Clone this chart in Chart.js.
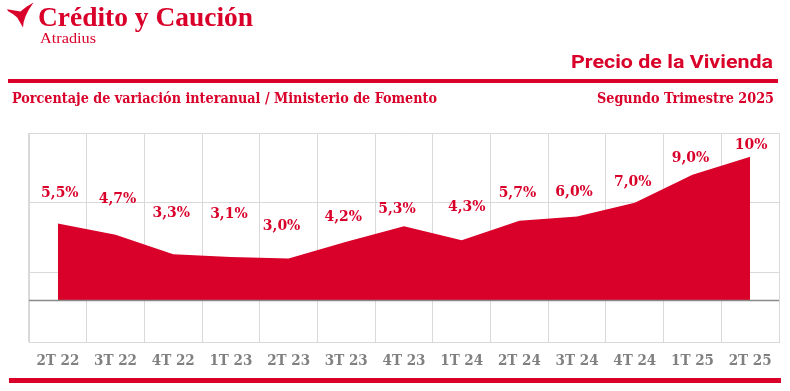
<!DOCTYPE html>
<html>
<head>
<meta charset="utf-8">
<script src="https://cdn.jsdelivr.net/npm/chart.js@4"></script>
<style>
  html, body { margin: 0; padding: 0; background: #ffffff; }
  #wrap { position: relative; width: 790px; height: 391px; overflow: hidden; }
  canvas { display: block; }
</style>
</head>
<body>
<div id="wrap"><canvas id="c" width="790" height="391"></canvas></div>
<script>
// ---- data ----
const categories = ['2T 22','3T 22','4T 22','1T 23','2T 23','3T 23','4T 23','1T 24','2T 24','3T 24','4T 24','1T 25','2T 25'];
const values = [5.5, 4.7, 3.3, 3.1, 3.0, 4.2, 5.3, 4.3, 5.7, 6.0, 7.0, 9.0, 10.3];
const yTicks = [-3, 0, 2, 7, 12];

const logoText = 'Crédito y Caución';
const logoSub = 'Atradius';
const titleText = 'Precio de la Vivienda';
const subtitleLeft = 'Porcentaje de variación interanual / Ministerio de Fomento';
const subtitleRight = 'Segundo Trimestre 2025';

const RED = '#d9002a';
const GRID = '#d9d9d9';
const SLAB = "'DejaVu Serif Condensed', 'DejaVu Serif', serif";

function fmt(v) {
  return v >= 10 ? Math.round(v) + '%' : v.toFixed(1).replace('.', ',') + '%';
}

function drawFitText(ctx, text, x, y, font, color, align, targetW) {
  ctx.save();
  ctx.font = font;
  ctx.fillStyle = color;
  ctx.textBaseline = 'alphabetic';
  const w = ctx.measureText(text).width;
  const s = targetW ? targetW / w : 1;
  const left = align === 'right' ? x - w * s : x;
  ctx.translate(left, y);
  ctx.scale(s, 1);
  ctx.textAlign = 'left';
  ctx.fillText(text, 0, 0);
  ctx.restore();
}

const headerPlugin = {
  id: 'header',
  afterDraw(chart) {
    const ctx = chart.ctx;
    ctx.save();
    const p = new Path2D('M33.5 2.5 Q26 6.5 20.5 11.5 L7 9.2 L8.2 11.3 Q14 14.2 17.2 17.5 L23 27.6 Q22.8 17.5 33.5 2.5 Z');
    ctx.fillStyle = RED;
    ctx.fill(p);
    ctx.restore();
    drawFitText(ctx, logoText, 38, 26, "bold 28px 'Liberation Serif', serif", RED, 'left', 215);
    drawFitText(ctx, logoSub, 40, 43, "15px 'Liberation Serif', serif", RED, 'left', 56);
    drawFitText(ctx, titleText, 773, 68, "bold 19px Roboto, sans-serif", RED, 'right', 202);
    drawFitText(ctx, subtitleLeft, 12, 103, "bold 15px " + SLAB, RED, 'left', 425);
    drawFitText(ctx, subtitleRight, 774, 103, "bold 15px " + SLAB, RED, 'right', 177);
    ctx.save();
    ctx.fillStyle = RED;
    ctx.fillRect(8, 79, 770, 4);
    ctx.fillRect(9, 378, 772, 5);
    ctx.restore();
  }
};

const labelShift = [[2,-32],[2,-37],[-2,-43],[-2,-45],[-7,-34],[-3,-26],[-7,-19],[5,-35],[-2,-29],[-3,-26],[-2,-22],[-2,-18],[1,-13]];

const valueLabels = {
  id: 'valueLabels',
  afterDatasetsDraw(chart) {
    const ctx = chart.ctx;
    const meta = chart.getDatasetMeta(0);
    const ys = chart.scales.y;
    ctx.save();
    const y0 = Math.round(ys.getPixelForValue(0)) + 0.5;
    ctx.strokeStyle = '#8a8a8a';
    ctx.lineWidth = 1.5;
    ctx.beginPath();
    ctx.moveTo(chart.chartArea.left, y0);
    ctx.lineTo(chart.chartArea.right, y0);
    ctx.stroke();
    ctx.restore();
    ctx.save();
    ctx.font = "bold 15.5px " + SLAB;
    ctx.fillStyle = RED;
    ctx.textAlign = 'center';
    ctx.textBaseline = 'alphabetic';
    meta.data.forEach((pt, i) => {
      const sh = labelShift[i] || [0, -30];
      ctx.fillText(fmt(values[i]), pt.x + sh[0], pt.y + sh[1] + 5.6);
    });
    ctx.restore();
  }
};

new Chart(document.getElementById('c'), {
  type: 'line',
  data: {
    labels: categories,
    datasets: [{
      data: values,
      fill: 'origin',
      backgroundColor: RED,
      borderColor: RED,
      borderWidth: 0,
      pointRadius: 0,
      tension: 0
    }]
  },
  options: {
    responsive: false,
    animation: false,
    devicePixelRatio: 1,
    layout: { padding: { left: 29, right: 11, top: 133, bottom: 0 } },
    plugins: { legend: { display: false }, tooltip: { enabled: false }, title: { display: false } },
    scales: {
      x: {
        offset: true,
        grid: { offset: true, color: GRID, lineWidth: 1, drawTicks: false },
        border: { display: true, color: GRID },
        ticks: { color: '#808080', padding: 10, font: { family: SLAB, weight: 'bold', size: 15 }, maxRotation: 0, autoSkip: false },
        afterFit(s) { s.height = 49; }
      },
      y: {
        min: -3, max: 12,
        afterBuildTicks(s) { s.ticks = yTicks.map(v => ({ value: v })); },
        grid: { color: c => (c.tick && c.tick.value === 0) ? 'rgba(0,0,0,0)' : GRID, lineWidth: 1, drawTicks: false },
        border: { display: true, color: GRID },
        ticks: { display: false },
        afterFit(s) { s.width = 0; }
      }
    }
  },
  plugins: [headerPlugin, valueLabels]
});
</script>
</body>
</html>
